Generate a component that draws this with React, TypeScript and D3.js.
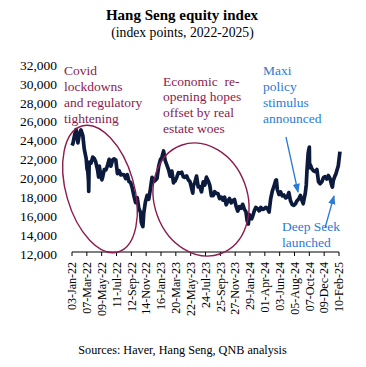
import React from 'react';
import * as d3 from 'd3';

// Hang Seng index closes (weekly, plus a few big daily moves)
const hsi2022: [string, number][] = [
  ['2022-01-03', 23275], ['2022-01-07', 23493], ['2022-01-14', 24383], ['2022-01-20', 24952],
  ['2022-01-28', 23550], ['2022-02-04', 24573], ['2022-02-10', 24924], ['2022-02-18', 24328],
  ['2022-02-24', 22902], ['2022-03-04', 21905], ['2022-03-08', 20765], ['2022-03-11', 20554],
  ['2022-03-14', 19532], ['2022-03-15', 18415], ['2022-03-16', 20087], ['2022-03-17', 21501],
  ['2022-03-25', 21405], ['2022-04-01', 22039], ['2022-04-08', 21872], ['2022-04-14', 21518],
  ['2022-04-22', 20638], ['2022-04-26', 19934], ['2022-04-29', 21089], ['2022-05-06', 20001],
  ['2022-05-10', 19633], ['2022-05-13', 19898], ['2022-05-20', 20717], ['2022-05-27', 20697],
  ['2022-06-02', 21082], ['2022-06-10', 21806], ['2022-06-17', 21075], ['2022-06-24', 21719],
  ['2022-06-30', 21860], ['2022-07-08', 21725], ['2022-07-15', 20297], ['2022-07-22', 20609],
  ['2022-07-29', 20156], ['2022-08-05', 20201], ['2022-08-12', 20175], ['2022-08-19', 19773],
  ['2022-08-26', 20170], ['2022-09-02', 19452], ['2022-09-09', 19362], ['2022-09-16', 18762],
  ['2022-09-23', 17933], ['2022-09-30', 17223], ['2022-10-07', 17740], ['2022-10-14', 16588],
  ['2022-10-21', 16211], ['2022-10-24', 15180], ['2022-10-28', 14863], ['2022-10-31', 14687],
  ['2022-11-04', 16161], ['2022-11-11', 17326], ['2022-11-18', 17993], ['2022-11-25', 17573],
  ['2022-12-02', 18675], ['2022-12-09', 19901], ['2022-12-16', 19450], ['2022-12-23', 19593],
  ['2022-12-30', 19781],
];

const hsi2023: [string, number][] = [
  ['2023-01-06', 21052], ['2023-01-13', 21738], ['2023-01-20', 22045], ['2023-01-27', 22689],
  ['2023-02-03', 21660], ['2023-02-10', 21190], ['2023-02-17', 20719], ['2023-02-24', 20010],
  ['2023-03-03', 20567], ['2023-03-10', 19320], ['2023-03-15', 19539], ['2023-03-17', 19518],
  ['2023-03-24', 19916], ['2023-03-31', 20400], ['2023-04-06', 20332], ['2023-04-14', 20438],
  ['2023-04-21', 19959], ['2023-04-28', 19895], ['2023-05-05', 20049], ['2023-05-12', 19628],
  ['2023-05-19', 19451], ['2023-05-26', 18746], ['2023-05-31', 18234], ['2023-06-02', 18950],
  ['2023-06-09', 19390], ['2023-06-16', 20040], ['2023-06-23', 18890], ['2023-06-30', 18916],
  ['2023-07-07', 18366], ['2023-07-14', 19413], ['2023-07-21', 19075], ['2023-07-28', 19917],
  ['2023-08-04', 19540], ['2023-08-11', 19075], ['2023-08-18', 17951], ['2023-08-25', 17956],
  ['2023-09-01', 18382], ['2023-09-08', 18202], ['2023-09-15', 18182], ['2023-09-22', 17655],
  ['2023-09-29', 17810], ['2023-10-06', 17485], ['2023-10-13', 17813], ['2023-10-20', 16995],
  ['2023-10-27', 17399], ['2023-11-03', 17664], ['2023-11-10', 17203], ['2023-11-17', 17454],
  ['2023-11-24', 17559], ['2023-12-01', 16830], ['2023-12-08', 16335], ['2023-12-15', 16792],
  ['2023-12-22', 16631], ['2023-12-29', 17047],
];

const hsi2024: [string, number][] = [
  ['2024-01-05', 16535], ['2024-01-12', 16244], ['2024-01-17', 15277], ['2024-01-19', 15309],
  ['2024-01-22', 14961], ['2024-01-26', 15952], ['2024-02-02', 15533], ['2024-02-05', 15510],
  ['2024-02-09', 15746], ['2024-02-16', 16340], ['2024-02-23', 16726], ['2024-03-01', 16589],
  ['2024-03-08', 16353], ['2024-03-15', 16721], ['2024-03-22', 16499], ['2024-03-28', 16541],
  ['2024-04-05', 16724], ['2024-04-12', 16600], ['2024-04-19', 16224], ['2024-04-26', 17651],
  ['2024-05-03', 18476], ['2024-05-10', 18963], ['2024-05-17', 19554], ['2024-05-20', 19636],
  ['2024-05-24', 18609], ['2024-05-31', 18080], ['2024-06-07', 18367], ['2024-06-14', 17942],
  ['2024-06-21', 18028], ['2024-06-28', 17719], ['2024-07-05', 17800], ['2024-07-12', 18293],
  ['2024-07-19', 17418], ['2024-07-26', 17022], ['2024-08-02', 16946], ['2024-08-09', 17091],
  ['2024-08-16', 17430], ['2024-08-23', 17612], ['2024-08-30', 17989], ['2024-09-06', 17444],
  ['2024-09-11', 17108], ['2024-09-13', 17369], ['2024-09-20', 18258], ['2024-09-24', 19129],
  ['2024-09-27', 20632], ['2024-10-02', 22444], ['2024-10-04', 22737], ['2024-10-07', 23100],
  ['2024-10-08', 20927], ['2024-10-11', 21252], ['2024-10-18', 20804], ['2024-10-25', 20590],
  ['2024-11-01', 20506], ['2024-11-08', 20728], ['2024-11-15', 19426], ['2024-11-22', 19230],
  ['2024-11-29', 19424], ['2024-12-06', 19866], ['2024-12-13', 19971], ['2024-12-20', 19721],
  ['2024-12-27', 20090],
];

const hsi2025: [string, number][] = [
  ['2025-01-03', 19760], ['2025-01-10', 19064], ['2025-01-13', 18874], ['2025-01-17', 19584],
  ['2025-01-24', 20066], ['2025-01-27', 20198], ['2025-02-07', 21133], ['2025-02-14', 22620],
];

const tickLabels = [
  '03-Jan-22', '07-Mar-22', '09-May-22', '11-Jul-22', '12-Sep-22', '14-Nov-22',
  '16-Jan-23', '20-Mar-23', '22-May-23', '24-Jul-23', '25-Sep-23', '27-Nov-23',
  '29-Jan-24', '01-Apr-24', '03-Jun-24', '05-Aug-24', '07-Oct-24', '09-Dec-24', '10-Feb-25',
];

const yTicks = [12000, 14000, 16000, 18000, 20000, 22000, 24000, 26000, 28000, 30000, 32000];

const maroon = '#8a1c4e';
const blue = '#2b7bd3';
const navy = '#0b1a3d';
const font = '"Liberation Serif", "Times New Roman", serif';

const App = () => {
  const width = 366;
  const height = 367;

  const parseDay = d3.timeParse('%Y-%m-%d');
  const parseTick = d3.timeParse('%d-%b-%y');

  const series = [...hsi2022, ...hsi2023, ...hsi2024, ...hsi2025].map(([d, v]) => ({
    date: parseDay(d) as Date,
    value: v,
  }));
  const ticks = tickLabels.map(t => ({ label: t, date: parseTick(t) as Date }));

  const x = d3
    .scaleTime()
    .domain([ticks[0].date, ticks[ticks.length - 1].date])
    .range([72, 339]);
  const y = d3.scaleLinear().domain([12000, 32000]).range([252, 63]);

  const line = d3
    .line<{ date: Date; value: number }>()
    .x(d => x(d.date))
    .y(d => y(d.value));

  const fmt = d3.format(',');

  return (
    <svg
      width={width}
      height={height}
      style={{ position: 'absolute', left: 0, top: 0, background: '#fff' }}
      fontFamily={font}
    >
      <defs>
        <marker id="arrow" viewBox="0 0 10 10" refX="9" refY="5" markerWidth="7" markerHeight="7" orient="auto">
          <path d="M0,1 L10,5 L0,9 z" fill={blue} />
        </marker>
      </defs>

      <text x={182} y={20} textAnchor="middle" fontWeight="bold" fontSize={15} fill="#000">
        Hang Seng equity index
      </text>
      <text x={182.5} y={37} textAnchor="middle" fontSize={13.7} fill="#000">
        (index points, 2022-2025)
      </text>

      {/* y axis labels, no axis line */}
      {yTicks.map(t => (
        <text key={t} x={57} y={y(t) + 2} dy="0.35em" textAnchor="end" fontSize={13.5} fill="#000">
          {fmt(t)}
        </text>
      ))}

      {/* x axis */}
      <line x1={x(ticks[0].date)} x2={x(ticks[ticks.length - 1].date)} y1={252} y2={252} stroke="#000" strokeWidth={1} />
      {ticks.map(t => (
        <g key={t.label} transform={`translate(${x(t.date)},252)`}>
          <line y1={0} y2={4} stroke="#000" strokeWidth={1} />
          <text transform="translate(0,10) rotate(-90)" dy="0.35em" textAnchor="end" fontSize={12} fill="#000">
            {t.label}
          </text>
        </g>
      ))}

      <path d={line(series) ?? ''} fill="none" stroke={navy} strokeWidth={3.7} strokeLinejoin="round" />

      {/* annotations */}
      <ellipse cx={100} cy={189} rx={34} ry={65.5} transform="rotate(-16 100 189)" fill="none" stroke={maroon} strokeWidth={1.4} />
      <ellipse cx={201} cy={199.5} rx={46.5} ry={57.7} transform="rotate(-20 201 199.5)" fill="none" stroke={maroon} strokeWidth={1.4} />

      <text fontSize={13.5} fill={maroon}>
        <tspan x={64} y={74.5}>Covid</tspan>
        <tspan x={64} y={90.5}>lockdowns</tspan>
        <tspan x={64} y={106.5}>and regulatory</tspan>
        <tspan x={64} y={122.5}>tightening</tspan>
      </text>
      <text fontSize={13.5} fill={maroon} style={{ whiteSpace: 'pre' }}>
        <tspan x={163} y={85.5}>Economic  re-</tspan>
        <tspan x={163} y={101.3}>opening hopes</tspan>
        <tspan x={163} y={117}>offset by real</tspan>
        <tspan x={163} y={132.7}>estate woes</tspan>
      </text>
      <text fontSize={13.5} fill={blue}>
        <tspan x={263} y={74.5}>Maxi</tspan>
        <tspan x={263} y={90.5}>policy</tspan>
        <tspan x={263} y={106.5}>stimulus</tspan>
        <tspan x={263} y={122.5}>announced</tspan>
      </text>
      <text fontSize={13.5} fill={blue}>
        <tspan x={282} y={231}>Deep Seek</tspan>
        <tspan x={282} y={247}>launched</tspan>
      </text>

      <line x1={286} y1={137} x2={298} y2={192} stroke={blue} strokeWidth={1.3} markerEnd="url(#arrow)" />
      <line x1={325} y1={228} x2={334} y2={196} stroke={blue} strokeWidth={1.3} markerEnd="url(#arrow)" />

      <text x={182.5} y={354} textAnchor="middle" fontSize={12.2} fill="#000">
        Sources: Haver, Hang Seng, QNB analysis
      </text>
    </svg>
  );
};

export default App;
